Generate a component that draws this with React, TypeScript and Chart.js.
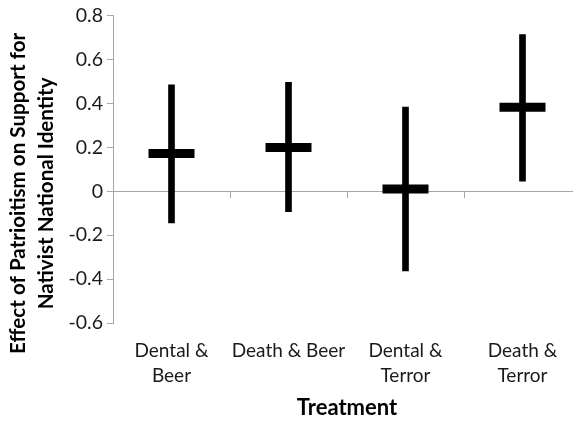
import React, { useEffect, useRef } from "react";
import { Chart, registerables } from "chart.js";

Chart.register(...registerables);

const categories: (string | string[])[] = [
  ["Dental &", "Beer"],
  "Death & Beer",
  ["Dental &", "Terror"],
  ["Death &", "Terror"],
];
const estimates = [0.172, 0.2, 0.01, 0.383];
const lower = [-0.144, -0.093, -0.363, 0.046];
const upper = [0.485, 0.497, 0.384, 0.714];
const yTitleLines = ["Effect of Patrioitism on Support for", "Nativist National Identity"];
const xTitle = "Treatment";

const FONT = "Lato, 'Open Sans', sans-serif";
const AXIS_GRAY = "#a6a6a6";

const yTitlePlugin = {
  id: "yTitlePlugin",
  afterDraw(chart: any) {
    const { ctx, chartArea } = chart;
    ctx.save();
    ctx.font = `bold 20.6px ${FONT}`;
    ctx.fillStyle = "#000";
    ctx.textAlign = "center";
    ctx.textBaseline = "middle";
    const cy = (chartArea.top + chartArea.bottom) / 2 + 24;
    const lineH = 28;
    yTitleLines.forEach((line, i) => {
      ctx.save();
      ctx.translate(18.5 + i * lineH, cy);
      ctx.rotate(-Math.PI / 2);
      ctx.fillText(line, 0, 0);
      ctx.restore();
    });
    ctx.restore();
  },
};

export default function App() {
  const ref = useRef<HTMLCanvasElement | null>(null);
  useEffect(() => {
    if (!ref.current) return;
    const chart = new Chart(ref.current, {
      type: "bar",
      data: {
        labels: categories as any,
        datasets: [
          {
            type: "line" as any,
            label: "Estimate",
            data: estimates,
            showLine: false,
            pointStyle: "line",
            pointRadius: 23,
            pointHoverRadius: 23,
            pointBorderWidth: 9,
            borderWidth: 9,
            borderColor: "#000",
            backgroundColor: "#000",
            order: 0,
            clip: false,
          } as any,
          {
            type: "bar",
            label: "Range",
            data: lower.map((l, i) => [l, upper[i]]) as any,
            backgroundColor: "#000",
            borderWidth: 0,
            barThickness: 6,
            order: 1,
          },
        ],
      },
      options: {
        responsive: false,
        animation: false,
        layout: { autoPadding: false, padding: { top: 10, right: 9, bottom: 0, left: 0 } },
        plugins: { legend: { display: false }, tooltip: { enabled: false } },
        scales: {
          x: {
            type: "category",
            offset: true,
            grid: { display: false, drawTicks: false },
            border: { display: false },
            ticks: {
              font: { family: FONT, size: 19, lineHeight: 1.32 },
              color: "#1a1a1a",
              padding: 15,
              maxRotation: 0,
              autoSkip: false,
            },
            title: {
              display: true,
              text: xTitle,
              font: { family: FONT, size: 22, weight: "bold" },
              color: "#000",
              padding: { top: 0, bottom: 0 },
            },
            afterFit(scale: any) {
              scale.height = 98;
            },
          },
          x2: {
            type: "category",
            labels: categories as any,
            position: { y: 0 } as any,
            offset: true,
            grid: {
              offset: true,
              drawOnChartArea: false,
              drawTicks: true,
              tickLength: 6,
              color: AXIS_GRAY,
            },
            border: { display: true, color: AXIS_GRAY, width: 1 },
            ticks: { display: false },
          },
          y: {
            type: "linear",
            min: -0.6,
            max: 0.8,
            ticks: {
              stepSize: 0.2,
              font: { family: FONT, size: 19.5 },
              color: "#1a1a1a",
              padding: 4,
            },
            grid: {
              drawOnChartArea: false,
              drawTicks: true,
              tickLength: 6,
              color: AXIS_GRAY,
            },
            border: { display: true, color: AXIS_GRAY, width: 1 },
            afterFit(scale: any) {
              scale.width = 113;
            },
          },
        },
      },
      plugins: [yTitlePlugin],
    });
    return () => chart.destroy();
  }, []);
  return (
    <div
      style={{
        position: "fixed",
        left: 0,
        top: 0,
        width: 573,
        height: 421,
        overflow: "hidden",
        background: "#fff",
      }}
    >
      <canvas ref={ref} width={590} height={421} style={{ display: "block" }} />
    </div>
  );
}
